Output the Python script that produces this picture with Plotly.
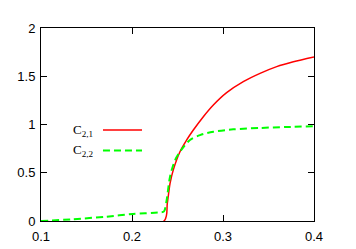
import plotly.graph_objects as go

# data
x_c21 = [0.1, 0.2352, 0.2388, 0.2418, 0.2454, 0.2527, 0.2601, 0.2674, 0.2784,
         0.2894, 0.3040, 0.3223, 0.3407, 0.359, 0.3773, 0.4]
y_c21 = [0.0, 0.0, 0.183, 0.39, 0.53, 0.718, 0.84, 0.943, 1.081,
         1.202, 1.33, 1.444, 1.53, 1.60, 1.65, 1.70]

x_c22 = [0.1, 0.135, 0.172, 0.2011, 0.2308, 0.2352, 0.2381, 0.2418, 0.2473,
         0.2546, 0.2637, 0.2747, 0.2894, 0.3113, 0.3407, 0.370, 0.4]
y_c22 = [0.0, 0.018, 0.045, 0.073, 0.09, 0.10, 0.218, 0.46, 0.63,
         0.743, 0.84, 0.89, 0.925, 0.95, 0.964, 0.974, 0.982]

x_ticks = [0.1, 0.2, 0.3, 0.4]
x_tick_labels = ["0.1", "0.2", "0.3", "0.4"]
y_ticks = [0, 0.5, 1, 1.5, 2]
y_tick_labels = ["0", "0.5", "1", "1.5", "2"]

legend_labels = ["C<sub>2,1</sub>", "C<sub>2,2</sub>"]
colors = ["#ff0000", "#00ff00"]

fig = go.Figure()
fig.add_trace(go.Scatter(x=x_c21, y=y_c21, mode="lines",
                         line=dict(color=colors[0], width=1.5, shape="spline", smoothing=0.8),
                         showlegend=False))
fig.add_trace(go.Scatter(x=x_c22, y=y_c22, mode="lines",
                         line=dict(color=colors[1], width=2, dash="7px,4px",
                                   shape="spline", smoothing=0.8),
                         showlegend=False))

axis_common = dict(showline=True, linecolor="black", linewidth=1, mirror="ticks",
                   ticks="inside", ticklen=6, tickcolor="black", tickwidth=1,
                   showgrid=False, zeroline=False, automargin=False,
                   tickfont=dict(family="Liberation Sans", size=13, color="black"))

fig.update_xaxes(range=[0.1, 0.4], tickvals=x_ticks, ticktext=x_tick_labels,
                 ticklabelstandoff=3, **axis_common)
fig.update_yaxes(range=[0, 2], tickvals=y_ticks, ticktext=y_tick_labels,
                 ticklabelstandoff=2, **axis_common)

# manual gnuplot-style legend (text left, sample right)
leg_y = [0.4715, 0.365]
dashes = ["solid", "7px,4px"]
widths = [1.5, 2]
for lab, yy, c, d, w in zip(legend_labels, leg_y, colors, dashes, widths):
    fig.add_annotation(x=0.198, y=yy, xref="paper", yref="paper", text=lab,
                       showarrow=False, xanchor="right", yanchor="middle",
                       font=dict(family="Liberation Serif", size=13, color="black"))
    fig.add_shape(type="line", xref="paper", yref="paper", x0=0.227, x1=0.370,
                  y0=yy, y1=yy, line=dict(color=c, width=w, dash=d))

fig.update_layout(width=356, height=249, margin=dict(l=41, r=42, t=28, b=28),
                  paper_bgcolor="white", plot_bgcolor="white")

fig.write_html("out.html", config={"displayModeBar": False},
               post_script="document.body.style.margin='0';")
